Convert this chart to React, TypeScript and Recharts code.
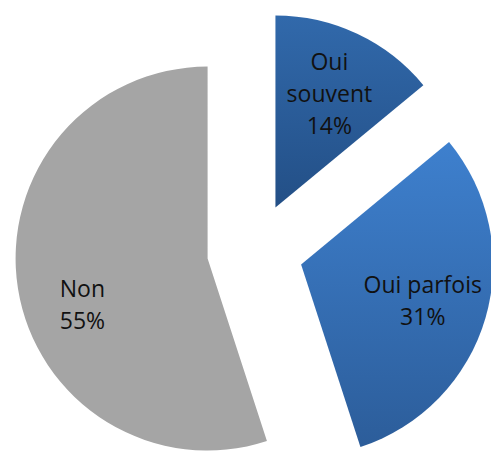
import { PieChart, Pie, Cell, Sector } from "recharts";

const categories = ["Oui souvent", "Oui parfois", "Non"];
const values = [14, 31, 55];
const fills = ["url(#gSouvent)", "url(#gParfois)", "#a5a5a5"];

const data = categories.map((name, i) => ({ name, value: values[i] }));

const RAD = Math.PI / 180;
const EXPLODE = 48;
// excel's "best fit" put the big slice's label a bit lower
const labelNudge: Record<string, number> = { Non: 26 };

const shift = (midAngle: number) => ({
  dx: EXPLODE * Math.cos(-midAngle * RAD),
  dy: EXPLODE * Math.sin(-midAngle * RAD),
});

function ExplodedSector(props: any) {
  const { dx, dy } = shift(props.midAngle);
  return <Sector {...props} cx={props.cx + dx} cy={props.cy + dy} />;
}

function renderLabel(props: any) {
  const { cx, cy, midAngle, outerRadius, name, value } = props;
  const { dx, dy } = shift(midAngle);
  const r = outerRadius * 0.66;
  const x = cx + dx + r * Math.cos(-midAngle * RAD);
  const y = cy + dy + r * Math.sin(-midAngle * RAD) + (labelNudge[name] ?? 0);
  // narrow slices wrap every word, like the spreadsheet did
  const lines = value < 20 ? [...name.split(" "), `${value}%`] : [name, `${value}%`];
  const lh = 32;
  const top = y - ((lines.length - 1) * lh) / 2;
  return (
    <text
      x={x}
      y={top}
      textAnchor="middle"
      dominantBaseline="central"
      fill="#111"
      fontSize={23}
      fontFamily="'Open Sans', sans-serif"
    >
      {lines.map((l: string, i: number) => (
        <tspan key={i} x={x} y={top + i * lh}>
          {l}
        </tspan>
      ))}
    </text>
  );
}

export default function App() {
  return (
    <div
      style={{
        position: "absolute",
        left: 0,
        top: 0,
        width: 491,
        height: 455,
        overflow: "hidden",
        background: "#fff",
      }}
    >
      <PieChart width={491} height={455}>
        <defs>
          <linearGradient id="gSouvent" x1="0" y1="0" x2="0" y2="1">
            <stop offset="0%" stopColor="#3169ab" />
            <stop offset="100%" stopColor="#234f86" />
          </linearGradient>
          <linearGradient id="gParfois" x1="0" y1="0" x2="0" y2="1">
            <stop offset="0%" stopColor="#3e80ce" />
            <stop offset="100%" stopColor="#2c5d9a" />
          </linearGradient>
        </defs>
        <Pie
          data={data}
          dataKey="value"
          nameKey="name"
          cx={250}
          cy={246}
          outerRadius={192}
          startAngle={90}
          endAngle={-270}
          stroke="none"
          shape={ExplodedSector}
          label={renderLabel}
          labelLine={false}
          isAnimationActive={false}
        >
          {data.map((d, i) => (
            <Cell key={d.name} fill={fills[i]} />
          ))}
        </Pie>
      </PieChart>
    </div>
  );
}
